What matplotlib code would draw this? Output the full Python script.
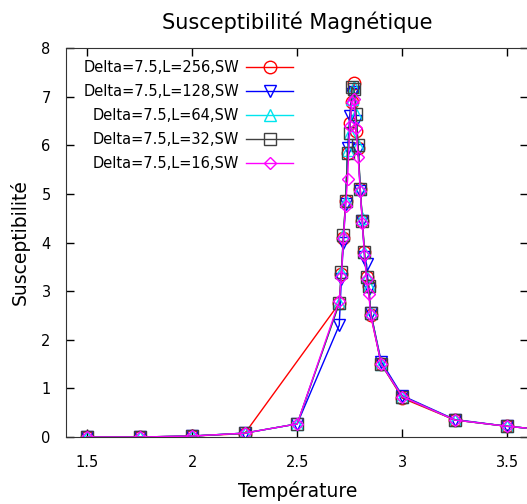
import numpy as np
import matplotlib
matplotlib.use('Agg')
import matplotlib.pyplot as plt

plt.rcParams['font.family'] = ['DejaVu Sans']

# temperatures (shared grid), L=256 has no point at T=2.5
temps = [1.5, 1.75, 2.0, 2.25, 2.5, 2.7, 2.71, 2.72, 2.73, 2.74, 2.75, 2.76, 2.77,
         2.78, 2.79, 2.8, 2.81, 2.82, 2.83, 2.84, 2.85, 2.9, 3.0, 3.25, 3.5, 3.75]

chi_256 = [0.0, 0.0, 0.02, 0.07, None, 2.75, 3.35, 4.1, 4.85, 5.85, 6.45, 6.9, 7.28,
           6.3, 5.95, 5.1, 4.45, 3.8, 3.3, 3.1, 2.5, 1.5, 0.8, 0.35, 0.22, 0.12]
chi_128 = [0.0, 0.0, 0.02, 0.08, 0.27, 2.3, 3.25, 4.0, 4.8, 5.95, 6.6, 7.05, 7.1,
           6.5, 5.9, 5.05, 4.45, 3.7, 3.55, 3.05, 2.55, 1.55, 0.85, 0.36, 0.22, 0.12]
chi_64 = [0.0, 0.0, 0.02, 0.08, 0.27, 2.75, 3.4, 4.15, 4.85, 5.9, 6.25, 6.95, 7.2,
          6.65, 6.0, 5.1, 4.5, 3.8, 3.3, 3.1, 2.55, 1.5, 0.83, 0.35, 0.22, 0.12]
chi_32 = [0.0, 0.0, 0.02, 0.08, 0.27, 2.75, 3.4, 4.15, 4.85, 5.85, 6.25, 7.2, 7.15,
          6.65, 6.0, 5.1, 4.45, 3.8, 3.3, 3.1, 2.55, 1.5, 0.83, 0.35, 0.22, 0.12]
chi_16 = [0.0, 0.0, 0.02, 0.08, 0.27, 2.8, 3.3, 4.1, 4.75, 5.3, 6.4, 6.9, 6.95,
          6.35, 5.75, 5.05, 4.4, 3.75, 3.25, 2.95, 2.5, 1.5, 0.83, 0.35, 0.22, 0.12]

labels = ['Delta=7.5,L=256,SW', 'Delta=7.5,L=128,SW', 'Delta=7.5,L=64,SW',
          'Delta=7.5,L=32,SW', 'Delta=7.5,L=16,SW']
series = [chi_256, chi_128, chi_64, chi_32, chi_16]
colors = ['#ff0000', '#0000ff', '#00e5ee', '#404040', '#ff00ff']
markers = ['o', 'v', '^', 's', 'D']
msizes = [9, 9, 9, 9, 6.5]

fig = plt.figure(figsize=(5.27, 5.04), dpi=100)
ax = fig.add_axes([0.1252, 0.1329, 0.8775, 0.7718])

for ys, lab, c, m, ms in zip(series, labels, colors, markers, msizes):
    xs = [t for t, y in zip(temps, ys) if y is not None]
    yv = [y for y in ys if y is not None]
    ax.plot(xs, yv, color=c, lw=1, marker=m, ms=ms, mfc='none', mec=c,
            mew=1, label=lab)

ax.set_xlim(1.4, 3.6)
ax.set_ylim(0, 8)
ax.set_xticks([1.5, 2, 2.5, 3, 3.5])
ax.set_xticklabels(['1.5', '2', '2.5', '3', '3.5'])
ax.set_yticks(range(0, 9))
ax.tick_params(direction='in', top=True, right=True, length=6, width=1,
               labelsize=10.5)
ax.tick_params(axis='x', pad=13)
ax.tick_params(axis='y', pad=11)
ax.spines['right'].set_visible(False)
for s in ['left', 'bottom', 'top']:
    ax.spines[s].set_color('#333333')

ax.set_title('Susceptibilité Magnétique', fontsize=15, pad=14)
ax.set_xlabel('Température', fontsize=13.5, labelpad=8)
ax.set_ylabel('Susceptibilité', fontsize=13.5, labelpad=8)

ax.legend(loc='upper left', bbox_to_anchor=(0.015, 0.995), frameon=False,
          markerfirst=False, fontsize=10.5, handlelength=3.2,
          labelspacing=0.62, borderaxespad=0.3, handletextpad=0.5)

plt.savefig('out.png', dpi=100)
